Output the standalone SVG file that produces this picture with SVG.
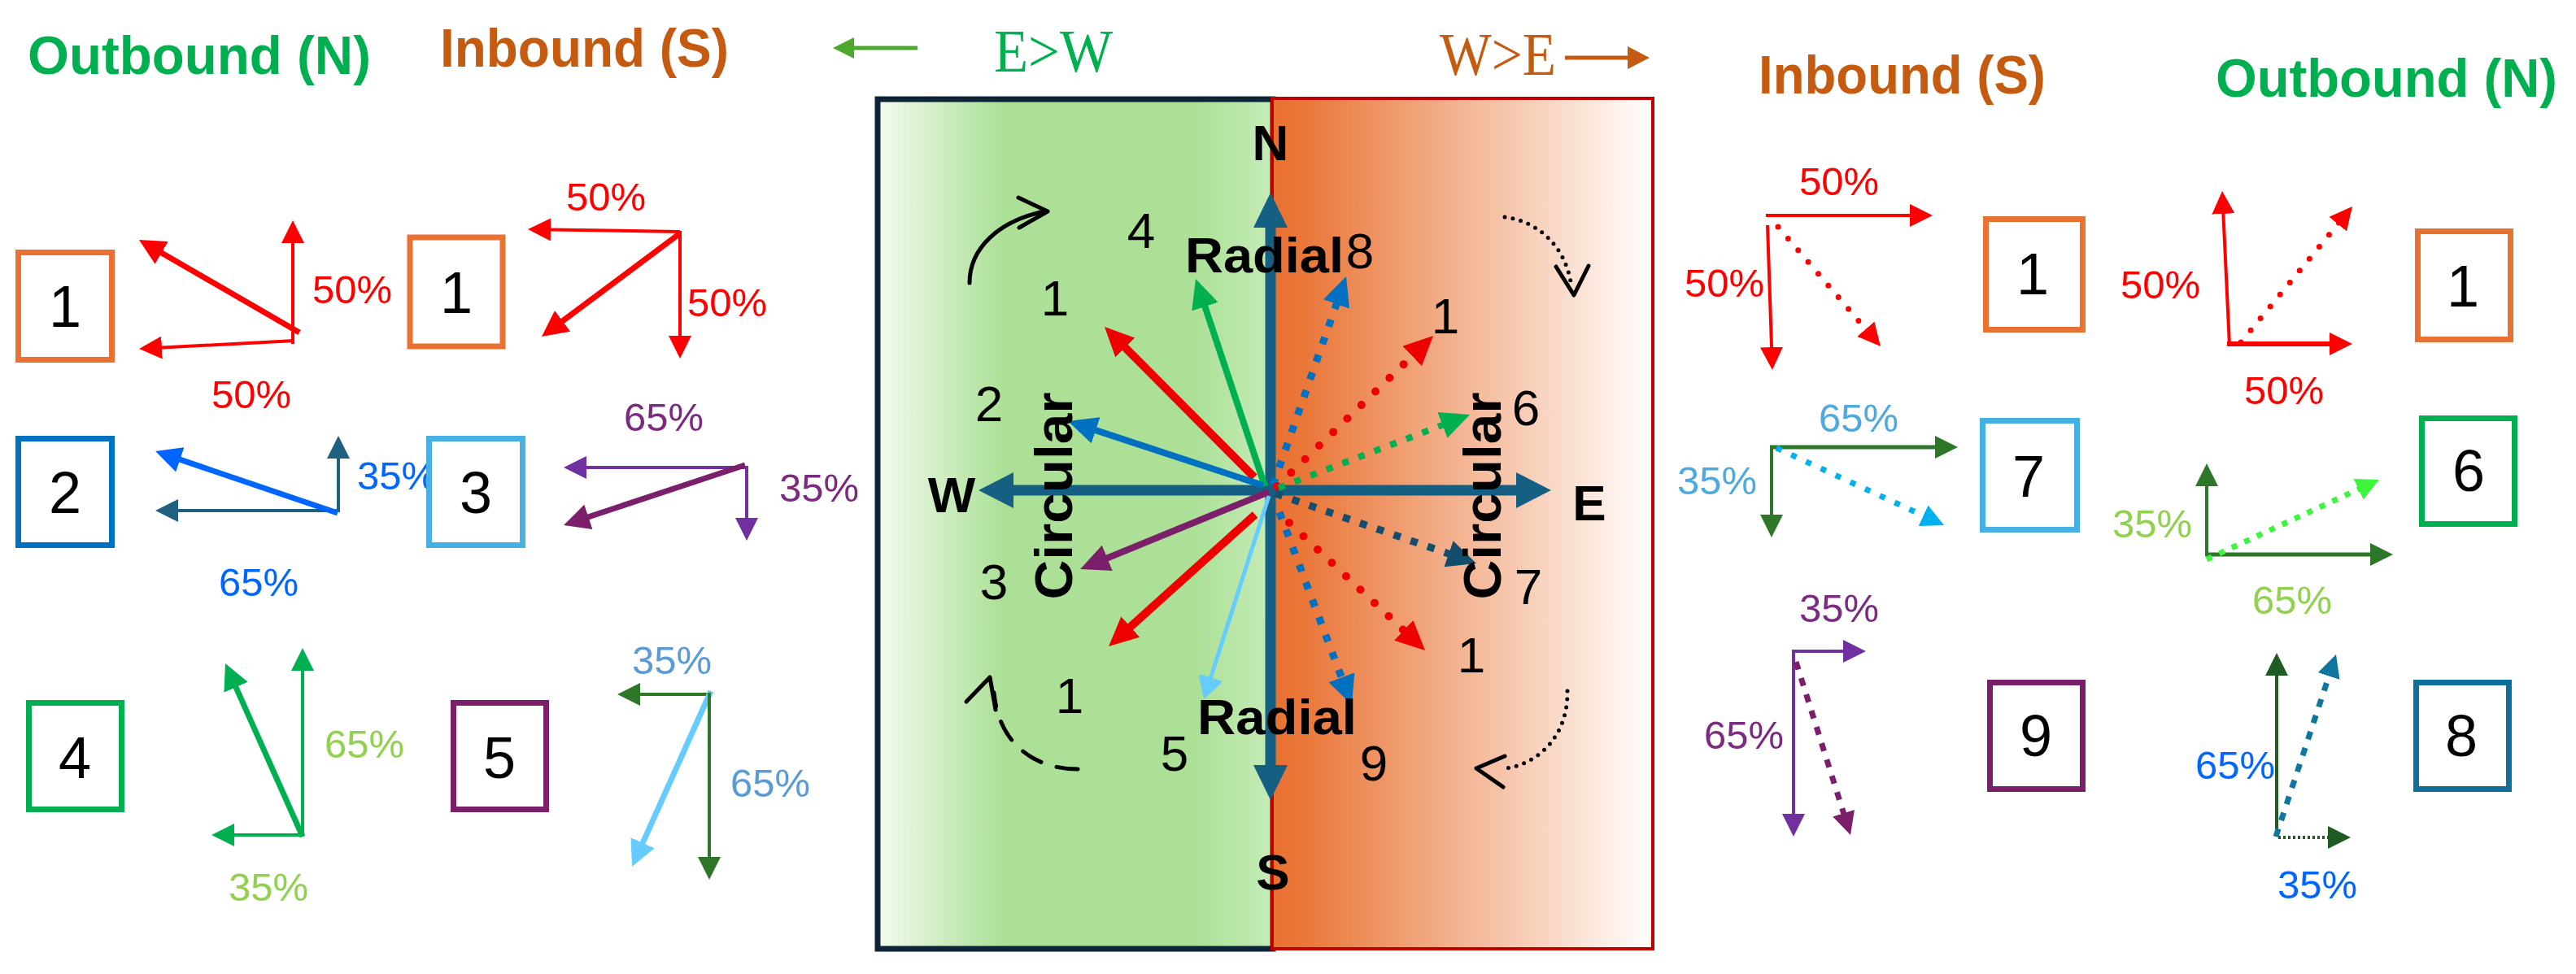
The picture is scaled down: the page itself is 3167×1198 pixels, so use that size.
<svg xmlns="http://www.w3.org/2000/svg" width="3167" height="1198" viewBox="0 0 3167 1198">
<style>
text{font-family:"Liberation Sans",Arial,sans-serif}
.title{font-size:66px;font-weight:bold}
.serif{font-family:"Liberation Serif","Times New Roman",serif;font-size:73px}
.box{fill:#fff;stroke-width:7}
.num{font-size:72px;fill:#000;text-anchor:middle}
.pct{font-size:49px}
.cnum{font-size:62px;fill:#000;text-anchor:middle}
.lbl{font-size:62px;font-weight:bold;fill:#000;text-anchor:middle}
.ln{fill:none;stroke-linecap:butt}
.rdot{fill:none;stroke-linecap:round}
.arc{fill:none;stroke:#000;stroke-width:5;stroke-linecap:round;stroke-linejoin:round}
</style>
<defs>
<linearGradient id="gG" x1="0" y1="0" x2="1" y2="0">
<stop offset="0" stop-color="#F4FBF1"/><stop offset="0.1" stop-color="#DDF2D3"/><stop offset="0.32" stop-color="#ABE096"/><stop offset="0.8" stop-color="#ABE096"/><stop offset="1" stop-color="#C6ECB8"/>
</linearGradient>
<linearGradient id="gO" x1="0" y1="0" x2="1" y2="0">
<stop offset="0" stop-color="#E97132"/><stop offset="0.08" stop-color="#EA7638"/><stop offset="1" stop-color="#FFFFFF"/>
</linearGradient>
<marker id="sRed" viewBox="0 0 28 28" markerWidth="28" markerHeight="28" refX="14" refY="14" orient="auto" markerUnits="userSpaceOnUse"><path d="M0,0L28,14L0,28z" fill="#FF0000"/></marker>
<marker id="sTeal" viewBox="0 0 28 28" markerWidth="28" markerHeight="28" refX="14" refY="14" orient="auto" markerUnits="userSpaceOnUse"><path d="M0,0L28,14L0,28z" fill="#1F5F80"/></marker>
<marker id="sPur" viewBox="0 0 28 28" markerWidth="28" markerHeight="28" refX="14" refY="14" orient="auto" markerUnits="userSpaceOnUse"><path d="M0,0L28,14L0,28z" fill="#7030A0"/></marker>
<marker id="sDPur" viewBox="0 0 28 28" markerWidth="28" markerHeight="28" refX="14" refY="14" orient="auto" markerUnits="userSpaceOnUse"><path d="M0,0L28,14L0,28z" fill="#7B1F6B"/></marker>
<marker id="sGrn" viewBox="0 0 28 28" markerWidth="28" markerHeight="28" refX="14" refY="14" orient="auto" markerUnits="userSpaceOnUse"><path d="M0,0L28,14L0,28z" fill="#00B050"/></marker>
<marker id="sDGrn" viewBox="0 0 28 28" markerWidth="28" markerHeight="28" refX="14" refY="14" orient="auto" markerUnits="userSpaceOnUse"><path d="M0,0L28,14L0,28z" fill="#2E7728"/></marker>
<marker id="sKGrn" viewBox="0 0 28 28" markerWidth="28" markerHeight="28" refX="14" refY="14" orient="auto" markerUnits="userSpaceOnUse"><path d="M0,0L28,14L0,28z" fill="#1E5C23"/></marker>
<marker id="sCyan" viewBox="0 0 28 28" markerWidth="28" markerHeight="28" refX="14" refY="14" orient="auto" markerUnits="userSpaceOnUse"><path d="M0,0L28,14L0,28z" fill="#00B0F0"/></marker>
<marker id="sBGrn" viewBox="0 0 28 28" markerWidth="28" markerHeight="28" refX="14" refY="14" orient="auto" markerUnits="userSpaceOnUse"><path d="M0,0L28,14L0,28z" fill="#3CF53C"/></marker>
<marker id="sTeal2" viewBox="0 0 28 28" markerWidth="28" markerHeight="28" refX="14" refY="14" orient="auto" markerUnits="userSpaceOnUse"><path d="M0,0L28,14L0,28z" fill="#0F76A0"/></marker>
<marker id="sLBlue" viewBox="0 0 28 28" markerWidth="28" markerHeight="28" refX="14" refY="14" orient="auto" markerUnits="userSpaceOnUse"><path d="M0,0L28,16L0,32z" fill="#66CCFF" transform="translate(0,-2)"/></marker>
<marker id="mRed" viewBox="0 0 32 32" markerWidth="32" markerHeight="32" refX="16" refY="16" orient="auto" markerUnits="userSpaceOnUse"><path d="M0,0L32,16L0,32z" fill="#FF0000"/></marker>
<marker id="mBlue" viewBox="0 0 32 32" markerWidth="32" markerHeight="32" refX="16" refY="16" orient="auto" markerUnits="userSpaceOnUse"><path d="M0,0L32,16L0,32z" fill="#0066FF"/></marker>
<marker id="mDPur" viewBox="0 0 32 32" markerWidth="32" markerHeight="32" refX="16" refY="16" orient="auto" markerUnits="userSpaceOnUse"><path d="M0,0L32,16L0,32z" fill="#7B1F6B"/></marker>
<marker id="mGrn" viewBox="0 0 32 32" markerWidth="32" markerHeight="32" refX="16" refY="16" orient="auto" markerUnits="userSpaceOnUse"><path d="M0,0L32,16L0,32z" fill="#00B050"/></marker>
<marker id="mLBlue" viewBox="0 0 32 32" markerWidth="32" markerHeight="32" refX="16" refY="16" orient="auto" markerUnits="userSpaceOnUse"><path d="M0,0L32,16L0,32z" fill="#66CCFF"/></marker>
<marker id="bGrn" viewBox="0 0 36 34" markerWidth="36" markerHeight="34" refX="18" refY="17" orient="auto" markerUnits="userSpaceOnUse"><path d="M0,0L36,17L0,34z" fill="#00B050"/></marker>
<marker id="bRed" viewBox="0 0 36 34" markerWidth="36" markerHeight="34" refX="18" refY="17" orient="auto" markerUnits="userSpaceOnUse"><path d="M0,0L36,17L0,34z" fill="#EE0000"/></marker>
<marker id="bBlue" viewBox="0 0 36 34" markerWidth="36" markerHeight="34" refX="18" refY="17" orient="auto" markerUnits="userSpaceOnUse"><path d="M0,0L36,17L0,34z" fill="#0070C0"/></marker>
<marker id="bPur" viewBox="0 0 36 34" markerWidth="36" markerHeight="34" refX="18" refY="17" orient="auto" markerUnits="userSpaceOnUse"><path d="M0,0L36,17L0,34z" fill="#7B1F6B"/></marker>
<marker id="bDk" viewBox="0 0 36 34" markerWidth="36" markerHeight="34" refX="18" refY="17" orient="auto" markerUnits="userSpaceOnUse"><path d="M0,0L36,17L0,34z" fill="#134E6F"/></marker>
</defs>

<g id="headers">
<text class="title" x="34" y="91" fill="#00B050" textLength="422" lengthAdjust="spacingAndGlyphs">Outbound (N)</text>
<text class="title" x="541" y="82" fill="#C55A11" textLength="355" lengthAdjust="spacingAndGlyphs">Inbound (S)</text>
<line x1="1128" y1="59" x2="1046" y2="59" stroke="#4EA72E" stroke-width="5"/>
<polygon points="1024,59 1050,46 1050,72" fill="#4EA72E"/>
<text class="serif" x="1222" y="88" fill="#00B050" textLength="146" lengthAdjust="spacingAndGlyphs">E&gt;W</text>
<text class="serif" x="1770" y="92" fill="#C55A11" textLength="143" lengthAdjust="spacingAndGlyphs">W&gt;E</text>
<line x1="1924" y1="71" x2="2004" y2="71" stroke="#C55A11" stroke-width="5"/>
<polygon points="2028,71 2001,57 2001,85" fill="#C55A11"/>
<text class="title" x="2162" y="115" fill="#C55A11" textLength="353" lengthAdjust="spacingAndGlyphs">Inbound (S)</text>
<text class="title" x="2724" y="119" fill="#00B050" textLength="420" lengthAdjust="spacingAndGlyphs">Outbound (N)</text>
</g>

<g id="panel-ew">
<rect x="1079" y="122" width="486" height="1045" fill="url(#gG)" stroke="#0D2436" stroke-width="7"/>
</g>
<g id="panel-we">
<rect x="1564" y="121" width="468" height="1046" fill="url(#gO)" stroke="#C00000" stroke-width="4"/>
</g>

<g id="compass">
<line x1="1562" y1="274" x2="1562" y2="946" stroke="#156082" stroke-width="13"/>
<line x1="1242" y1="603" x2="1868" y2="603" stroke="#156082" stroke-width="13"/>
<polygon points="1562,237 1541,280 1583,280" fill="#156082"/>
<polygon points="1562,984 1541,941 1583,941" fill="#156082"/>
<polygon points="1203,603 1246,581 1246,625" fill="#156082"/>
<polygon points="1907,603 1864,581 1864,625" fill="#156082"/>
</g>

<g id="connectors">
<line class="ln" x1="1555" y1="598" x2="1475.7" y2="360.1" stroke="#00B050" stroke-width="8" marker-end="url(#bGrn)"/>
<line class="ln" x1="1542" y1="587" x2="1370.7" y2="414.8" stroke="#EE0000" stroke-width="10" marker-end="url(#bRed)"/>
<line class="ln" x1="1553" y1="597" x2="1330.1" y2="523.6" stroke="#0070C0" stroke-width="8" marker-end="url(#bBlue)"/>
<line class="ln" x1="1560" y1="605" x2="1344.7" y2="693.2" stroke="#7B1F6B" stroke-width="8" marker-end="url(#bPur)"/>
<line class="ln" x1="1543" y1="633" x2="1376.4" y2="783" stroke="#EE0000" stroke-width="10" marker-end="url(#bRed)"/>
<line class="ln" x1="1560" y1="610" x2="1484.3" y2="846.6" stroke="#66CCFF" stroke-width="5" marker-end="url(#sLBlue)"/>
<line class="ln" x1="1565" y1="597" x2="1649" y2="357" stroke="#0070C0" stroke-width="9" stroke-dasharray="9 14" marker-end="url(#bBlue)"/>
<line class="rdot" x1="1570" y1="598" x2="1749.1" y2="425.5" stroke="#EE0000" stroke-width="10" stroke-dasharray="0 24" marker-end="url(#bRed)"/>
<line class="ln" x1="1572" y1="600" x2="1790.2" y2="516.4" stroke="#00B050" stroke-width="8" stroke-dasharray="8 13" marker-end="url(#bGrn)"/>
<line class="ln" x1="1568" y1="607" x2="1798" y2="687.1" stroke="#134E6F" stroke-width="9" stroke-dasharray="9 13" marker-end="url(#bDk)"/>
<line class="rdot" x1="1585" y1="643" x2="1738.9" y2="787.7" stroke="#EE0000" stroke-width="10" stroke-dasharray="0 24" marker-end="url(#bRed)"/>
<line class="ln" x1="1573" y1="630" x2="1655.7" y2="850.1" stroke="#0070C0" stroke-width="9" stroke-dasharray="9 14" marker-end="url(#bBlue)"/>

<path class="arc" d="M1192,348 C1192,305 1228,272 1284,260"/>
<path class="arc" d="M1252,243 L1288,260 L1253,280"/>
<path class="arc" d="M1850,267 C1890,272 1925,302 1932,352" stroke-dasharray="0 10"/>
<path class="arc" d="M1913,328 L1935,363 L1953,327"/>
<path class="arc" d="M1325,946 C1272,946 1228,915 1222,852" stroke-dasharray="26 20" stroke-linecap="butt"/>
<path class="arc" d="M1188,863 L1217,833 L1224,873"/>
<path class="arc" d="M1927,850 C1928,902 1895,938 1852,945" stroke-dasharray="0 10"/>
<path class="arc" d="M1850,930 L1815,945 L1848,968"/>

<line class="ln" x1="360" y1="423" x2="360" y2="285" stroke="#FF0000" stroke-width="4" marker-end="url(#sRed)"/>
<line class="ln" x1="368" y1="409" x2="184.8" y2="303" stroke="#FF0000" stroke-width="7" marker-end="url(#mRed)"/>
<line class="ln" x1="362" y1="419" x2="185" y2="428.3" stroke="#FF0000" stroke-width="4" marker-end="url(#sRed)"/>
<line class="ln" x1="836" y1="285" x2="663" y2="282.2" stroke="#FF0000" stroke-width="4" marker-end="url(#sRed)"/>
<line class="ln" x1="836" y1="287" x2="678.8" y2="404.4" stroke="#FF0000" stroke-width="7" marker-end="url(#mRed)"/>
<line class="ln" x1="836" y1="284" x2="836" y2="427" stroke="#FF0000" stroke-width="4" marker-end="url(#sRed)"/>
<line class="ln" x1="416" y1="630" x2="416" y2="550" stroke="#1F5F80" stroke-width="4" marker-end="url(#sTeal)"/>
<line class="ln" x1="418" y1="628" x2="205" y2="628" stroke="#1F5F80" stroke-width="4" marker-end="url(#sTeal)"/>
<line class="ln" x1="415" y1="631" x2="206.2" y2="560.1" stroke="#0066FF" stroke-width="7" marker-end="url(#mBlue)"/>
<line class="ln" x1="918" y1="575" x2="707" y2="575" stroke="#7030A0" stroke-width="4" marker-end="url(#sPur)"/>
<line class="ln" x1="916" y1="572" x2="708.2" y2="640.9" stroke="#7B1F6B" stroke-width="7" marker-end="url(#mDPur)"/>
<line class="ln" x1="918" y1="573" x2="918" y2="651" stroke="#7030A0" stroke-width="4" marker-end="url(#sPur)"/>
<line class="ln" x1="372" y1="1029" x2="372" y2="811" stroke="#00B050" stroke-width="4" marker-end="url(#sGrn)"/>
<line class="ln" x1="372" y1="1029" x2="283.5" y2="830.6" stroke="#00B050" stroke-width="7" marker-end="url(#mGrn)"/>
<line class="ln" x1="374" y1="1027" x2="274" y2="1027" stroke="#00B050" stroke-width="4" marker-end="url(#sGrn)"/>
<line class="ln" x1="874" y1="854" x2="773" y2="854" stroke="#2E7728" stroke-width="4" marker-end="url(#sDGrn)"/>
<line class="ln" x1="874" y1="850" x2="783.6" y2="1051.4" stroke="#66CCFF" stroke-width="7" marker-end="url(#mLBlue)"/>
<line class="ln" x1="872" y1="852" x2="872" y2="1068" stroke="#2E7728" stroke-width="4" marker-end="url(#sDGrn)"/>

<line class="ln" x1="2171" y1="265" x2="2362" y2="265" stroke="#FF0000" stroke-width="4" marker-end="url(#sRed)"/>
<line class="rdot" x1="2186" y1="279" x2="2302.9" y2="415.4" stroke="#FF0000" stroke-width="7" stroke-dasharray="0 19" marker-end="url(#sRed)"/>
<line class="ln" x1="2173" y1="277" x2="2178.5" y2="441" stroke="#FF0000" stroke-width="4" marker-end="url(#sRed)"/>
<line class="ln" x1="2741" y1="425" x2="2732.7" y2="249" stroke="#FF0000" stroke-width="4" marker-end="url(#sRed)"/>
<line class="rdot" x1="2755" y1="421" x2="2883.1" y2="264.8" stroke="#FF0000" stroke-width="7" stroke-dasharray="0 19" marker-end="url(#sRed)"/>
<line class="ln" x1="2738" y1="423" x2="2878" y2="423" stroke="#FF0000" stroke-width="6" marker-end="url(#sRed)"/>
<line class="ln" x1="2176" y1="550" x2="2393" y2="550" stroke="#2E7728" stroke-width="5" marker-end="url(#sDGrn)"/>
<line class="ln" x1="2184" y1="551" x2="2377.3" y2="640.1" stroke="#00B0F0" stroke-width="7" stroke-dasharray="7 13" marker-end="url(#sCyan)"/>
<line class="ln" x1="2178" y1="548" x2="2178" y2="647" stroke="#2E7728" stroke-width="4" marker-end="url(#sDGrn)"/>
<line class="ln" x1="2713" y1="684" x2="2713" y2="584" stroke="#2E7728" stroke-width="4" marker-end="url(#sDGrn)"/>
<line class="ln" x1="2711" y1="682" x2="2928" y2="682" stroke="#2E7728" stroke-width="5" marker-end="url(#sDGrn)"/>
<line class="ln" x1="2713" y1="688" x2="2912.3" y2="595.9" stroke="#3CF53C" stroke-width="7" stroke-dasharray="7 10" marker-end="url(#sBGrn)"/>
<line class="ln" x1="2203" y1="801" x2="2280" y2="801" stroke="#7030A0" stroke-width="4" marker-end="url(#sPur)"/>
<line class="ln" x1="2205" y1="799" x2="2205" y2="1015" stroke="#7030A0" stroke-width="4" marker-end="url(#sPur)"/>
<line class="ln" x1="2208" y1="814" x2="2270.8" y2="1013.6" stroke="#7B1F6B" stroke-width="7" stroke-dasharray="10 11" marker-end="url(#sDPur)"/>
<line class="ln" x1="2799" y1="1029" x2="2799" y2="817" stroke="#1E5C23" stroke-width="4" marker-end="url(#sKGrn)"/>
<line class="ln" x1="2801" y1="1030" x2="2876" y2="1030" stroke="#1E5C23" stroke-width="4" stroke-dasharray="3 3" marker-end="url(#sKGrn)"/>
<line class="ln" x1="2798" y1="1029" x2="2867.6" y2="818.3" stroke="#0F76A0" stroke-width="7" stroke-dasharray="10 11" marker-end="url(#sTeal2)"/>
</g>

<g id="center-labels">
<text class="lbl" x="1562" y="197">N</text>
<text class="lbl" x="1565" y="1094">S</text>
<text class="lbl" x="1170" y="630">W</text>
<text class="lbl" x="1954" y="640">E</text>
<text x="1457" y="335" font-size="62" font-weight="bold" textLength="195" lengthAdjust="spacingAndGlyphs">Radial</text>
<text x="1472" y="903" font-size="62" font-weight="bold" textLength="196" lengthAdjust="spacingAndGlyphs">Radial</text>
<text transform="translate(1318,610) rotate(-90)" x="0" y="0" font-size="64" font-weight="bold" text-anchor="middle" textLength="255" lengthAdjust="spacingAndGlyphs">Circular</text>
<text transform="translate(1845,610) rotate(-90)" x="0" y="0" font-size="64" font-weight="bold" text-anchor="middle" textLength="255" lengthAdjust="spacingAndGlyphs">Circular</text>
<text class="cnum" x="1403" y="305">4</text>
<text class="cnum" x="1297" y="388">1</text>
<text class="cnum" x="1216" y="518">2</text>
<text class="cnum" x="1222" y="737">3</text>
<text class="cnum" x="1315" y="877">1</text>
<text class="cnum" x="1444" y="948">5</text>
<text class="cnum" x="1672" y="330">8</text>
<text class="cnum" x="1777" y="410">1</text>
<text class="cnum" x="1876" y="523">6</text>
<text class="cnum" x="1879" y="743">7</text>
<text class="cnum" x="1809" y="827">1</text>
<text class="cnum" x="1689" y="960">9</text>
</g>

<g id="percent-labels">
<text class="pct" x="384" y="373" fill="#FF0000">50%</text>
<text class="pct" x="260" y="502" fill="#FF0000">50%</text>
<text class="pct" x="696" y="259" fill="#FF0000">50%</text>
<text class="pct" x="845" y="389" fill="#FF0000">50%</text>
<text class="pct" x="439" y="602" fill="#0066FF">35%</text>
<text class="pct" x="269" y="733" fill="#0066FF">65%</text>
<text class="pct" x="767" y="530" fill="#7A2B7E">65%</text>
<text class="pct" x="958" y="617" fill="#7A2B7E">35%</text>
<text class="pct" x="399" y="932" fill="#92D050">65%</text>
<text class="pct" x="281" y="1108" fill="#92D050">35%</text>
<text class="pct" x="777" y="829" fill="#5B9BD5">35%</text>
<text class="pct" x="898" y="980" fill="#5B9BD5">65%</text>
<text class="pct" x="2212" y="240" fill="#FF0000">50%</text>
<text class="pct" x="2071" y="365" fill="#FF0000">50%</text>
<text class="pct" x="2607" y="367" fill="#FF0000">50%</text>
<text class="pct" x="2759" y="497" fill="#FF0000">50%</text>
<text class="pct" x="2236" y="531" fill="#4EA9DE">65%</text>
<text class="pct" x="2062" y="608" fill="#4EA9DE">35%</text>
<text class="pct" x="2597" y="661" fill="#92D050">35%</text>
<text class="pct" x="2769" y="755" fill="#92D050">65%</text>
<text class="pct" x="2212" y="765" fill="#7A2B7E">35%</text>
<text class="pct" x="2095" y="921" fill="#7A2B7E">65%</text>
<text class="pct" x="2699" y="958" fill="#0066FF">65%</text>
<text class="pct" x="2800" y="1105" fill="#0066FF">35%</text>
</g>

<g id="node-L1-out"><rect class="box" x="22.5" y="310.5" width="115" height="132" stroke="#E97132"/><text class="num" x="80" y="402">1</text></g>
<g id="node-L1-in"><rect class="box" x="504" y="292" width="114" height="134" stroke="#E97132"/><text class="num" x="561" y="385">1</text></g>
<g id="node-L2"><rect class="box" x="22.5" y="539.5" width="115" height="131" stroke="#0070C0"/><text class="num" x="80" y="631">2</text></g>
<g id="node-L3"><rect class="box" x="527.5" y="539.5" width="115" height="131" stroke="#45B0E1"/><text class="num" x="585" y="631">3</text></g>
<g id="node-L4"><rect class="box" x="35.5" y="864.5" width="114" height="131" stroke="#00B050"/><text class="num" x="92" y="957">4</text></g>
<g id="node-L5"><rect class="box" x="557.5" y="864.5" width="114" height="131" stroke="#7B1F6B"/><text class="num" x="614" y="957">5</text></g>
<g id="node-R1-in"><rect class="box" x="2441.5" y="269.5" width="119" height="136" stroke="#E97132"/><text class="num" x="2499" y="362">1</text></g>
<g id="node-R1-out"><rect class="box" x="2972.5" y="284.5" width="114" height="133" stroke="#E97132"/><text class="num" x="3028" y="377">1</text></g>
<g id="node-R7"><rect class="box" x="2437.5" y="517.5" width="116" height="134" stroke="#45B0E1"/><text class="num" x="2494" y="611">7</text></g>
<g id="node-R6"><rect class="box" x="2977.5" y="514.5" width="114" height="130" stroke="#00B050"/><text class="num" x="3035" y="604">6</text></g>
<g id="node-R9"><rect class="box" x="2446.5" y="839.5" width="114" height="131" stroke="#7B1F6B"/><text class="num" x="2503" y="930">9</text></g>
<g id="node-R8"><rect class="box" x="2970.5" y="839.5" width="114" height="131" stroke="#0F6E9A"/><text class="num" x="3026" y="930">8</text></g>
</svg>
